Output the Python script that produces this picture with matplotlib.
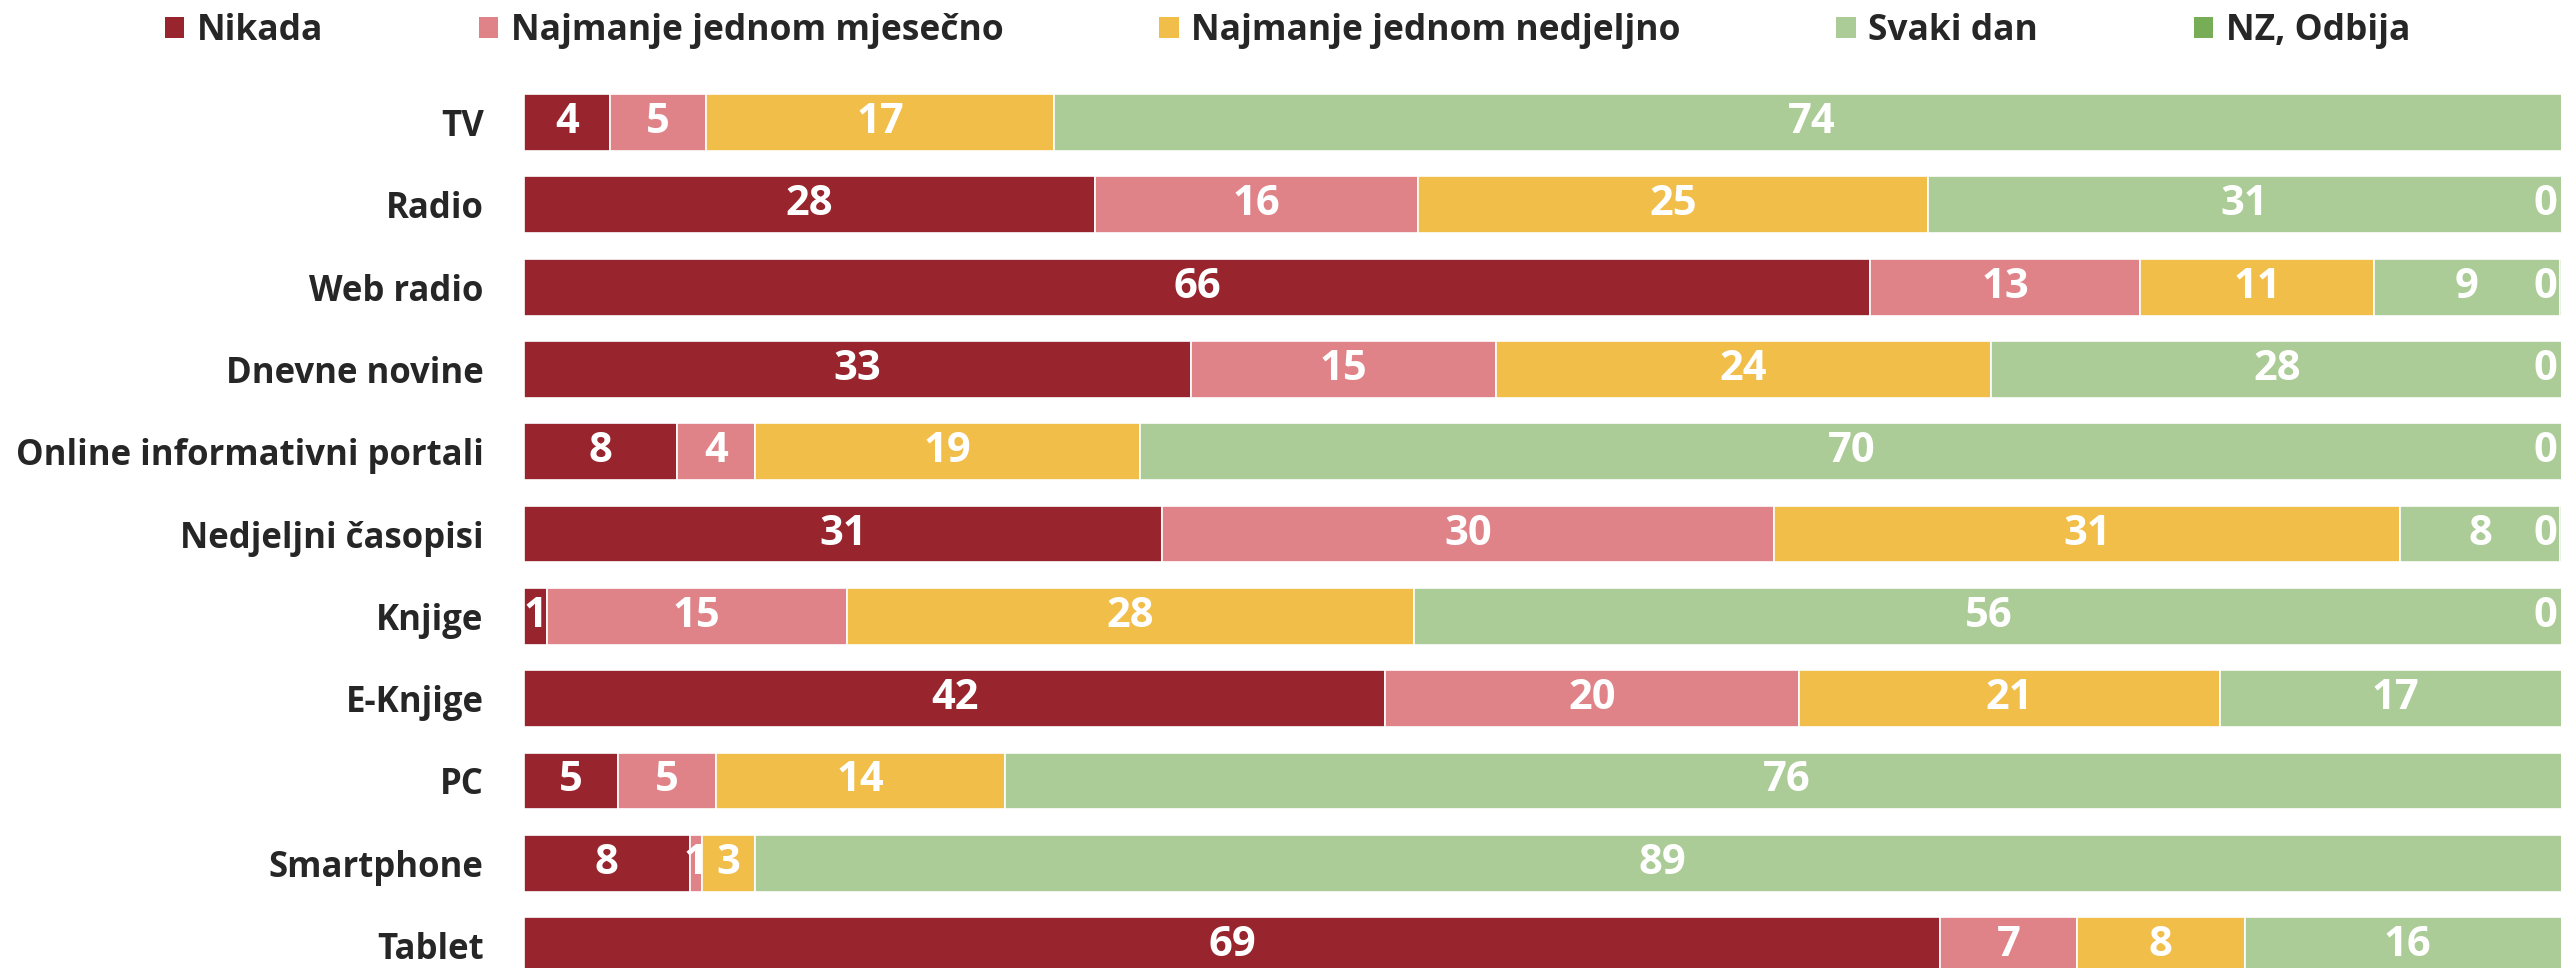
import matplotlib
matplotlib.use("Agg")
import matplotlib.pyplot as plt
from matplotlib.patches import Patch

plt.rcParams['font.family'] = ['Open Sans', 'DejaVu Sans']

categories = ["TV", "Radio", "Web radio", "Dnevne novine", "Online informativni portali",
              "Nedjeljni časopisi", "Knjige", "E-Knjige", "PC", "Smartphone", "Tablet"]
series = ["Nikada", "Najmanje jednom mjesečno", "Najmanje jednom nedjeljno", "Svaki dan", "NZ, Odbija"]
colors = ["#98252E", "#E08389", "#F1BE4A", "#ABCC96", "#77AD56"]

nikada    = [4.2, 27.9, 65.8, 32.6, 7.5, 31.2, 1.1, 42.1, 4.6, 8.1, 69.2]
mjesecno  = [4.7, 15.8, 13.2, 14.9, 3.8, 29.9, 14.7, 20.2, 4.8, 0.6, 6.7]
nedjeljno = [17.0, 24.9, 11.4, 24.2, 18.8, 30.6, 27.7, 20.6, 14.1, 2.6, 8.2]
svaki_dan = [74.1, 31.0, 9.1, 28.0, 69.6, 7.8, 56.2, 17.1, 76.4, 88.7, 15.9]
nz_odbija = [0, 0.4, 0.4, 0.3, 0.3, 0.4, 0.3, 0, 0, 0, 0]

data = [nikada, mjesecno, nedjeljno, svaki_dan, nz_odbija]

fig = plt.figure(figsize=(25.61, 9.68), dpi=100)
ax = fig.add_axes([524 / 2561, 0, 1 - 524 / 2561, 1])

ypos = list(range(len(categories)))
left = [0.0] * len(categories)
for s, (vals, col) in enumerate(zip(data, colors)):
    ax.barh(ypos, vals, left=left, height=0.69, color=col, edgecolor="white", linewidth=1.2)
    for i, v in enumerate(vals):
        if v <= 0:
            continue
        x = left[i] + v / 2
        if s == 4:
            x = min(x, 98.8)
        ax.text(x, i, f"{int(v + 0.5)}", ha="center", va="center",
                color="white", fontsize=30, fontweight="bold")
    left = [l + v for l, v in zip(left, vals)]

ax.set_xlim(0, 99.56)
ax.set_ylim(10.273, -1.489)
ax.set_yticks(ypos)
ax.set_yticklabels(categories, fontsize=25, fontweight="bold", color="#262626")
ax.tick_params(axis="y", length=0, pad=29)
ax.set_xticks([])
for sp in ax.spines.values():
    sp.set_visible(False)

handles = [Patch(facecolor=c, edgecolor="none") for c in colors]
fig.legend(handles, series, loc="center", bbox_to_anchor=(0.5027, 1 - 31 / 968), ncol=5,
           frameon=False, prop={"size": 25.5, "weight": "bold"}, labelcolor="#262626",
           handlelength=0.55, handleheight=0.55, handletextpad=0.35, columnspacing=4.4,
           borderaxespad=0, borderpad=0)

fig.savefig("out.png", dpi=100)
